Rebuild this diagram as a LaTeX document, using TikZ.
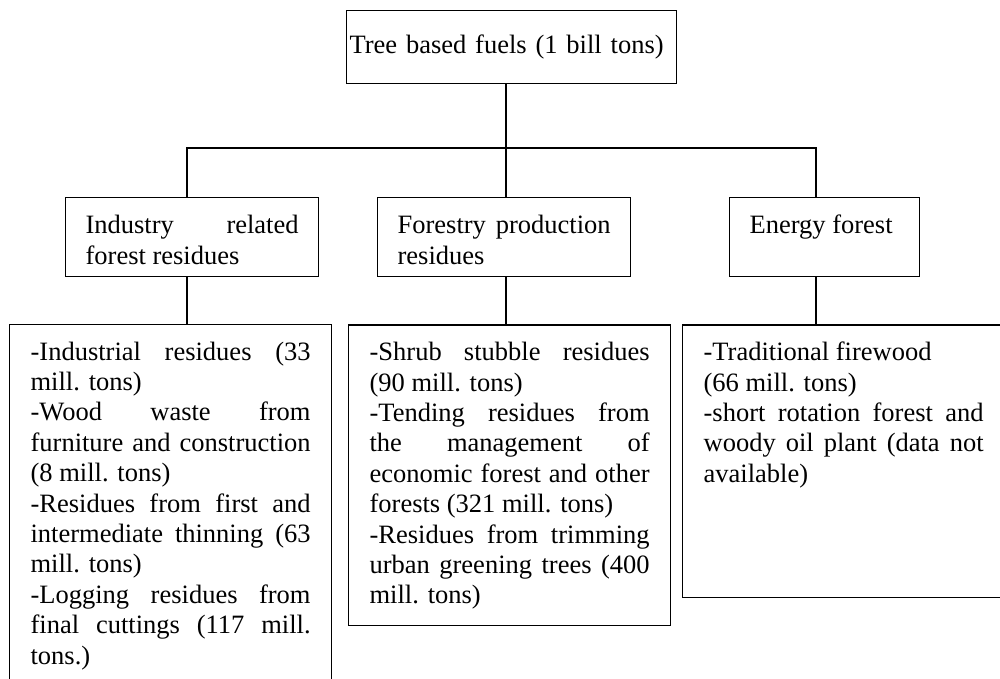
\documentclass[tikz,border=0pt]{standalone}
\usepackage{fontspec}
\setmainfont{Liberation Serif}
\hbadness=10000
\hyphenpenalty=10000
\begin{document}
\begin{tikzpicture}[line width=0.7pt,
  every node/.style={font=\fontsize{15.08}{17.3}\selectfont},
  groupbox/.style={draw,anchor=north west,inner xsep=0.40cm,inner ysep=0pt,align=justify,text height=0.72cm,text depth=0.86cm},
  listbox/.style={draw,anchor=north west,inner xsep=0.42cm,inner ysep=0pt,align=justify,text width=5.6cm,text height=0.71cm}]
\useasboundingbox (0,0) rectangle (20,13.56);
\node[draw,anchor=north west,text width=6.48cm,inner xsep=0.06cm,inner ysep=0pt,minimum height=1.46cm,align=left] (fuels) at (6.92,13.36) {Tree based fuels (1 bill tons)};
\node[groupbox,text width=4.26cm] (industry) at (1.30,9.62) {Industry related\linebreak forest residues};
\node[groupbox,text width=4.26cm] (forestry) at (7.54,9.62) {Forestry production residues};
\node[groupbox,text width=3.00cm] (energy) at (14.58,9.62) {Energy forest};
\node[listbox,text depth=6.89cm] (industrylist) at (0.18,7.08) {-Industrial residues (33\linebreak mill. tons)\\-Wood waste from\linebreak furniture and construction\linebreak (8 mill. tons)\\-Residues from first and\linebreak intermediate thinning (63\linebreak mill. tons)\\-Logging residues from\linebreak final cuttings (117 mill.\linebreak tons.)};
\node[listbox,text depth=5.29cm] (forestrylist) at (6.96,7.07) {-Shrub stubble residues\linebreak (90 mill. tons)\\-Tending residues from\linebreak the management of\linebreak economic forest and other\linebreak forests (321 mill. tons)\\-Residues from trimming\linebreak urban greening trees (400\linebreak mill. tons)};
\node[listbox,text depth=4.73cm] (energylist) at (13.64,7.07) {-Traditional firewood\\(66 mill. tons)\\-short rotation forest and\linebreak woody oil plant (data not\linebreak available)};
\coordinate (j1) at (3.74,10.6);
\coordinate (j2) at (10.12,10.6);
\coordinate (j3) at (16.32,10.6);
\draw (fuels.south -| j2) -- (forestry.north -| j2);
\draw (industry.north -| j1) -- (j1) -- (j3) -- (energy.north -| j3);
\draw (industry.south -| j1) -- (industrylist.north -| j1);
\draw (forestry.south -| j2) -- (forestrylist.north -| j2);
\draw (energy.south -| j3) -- (energylist.north -| j3);
\end{tikzpicture}
\end{document}
